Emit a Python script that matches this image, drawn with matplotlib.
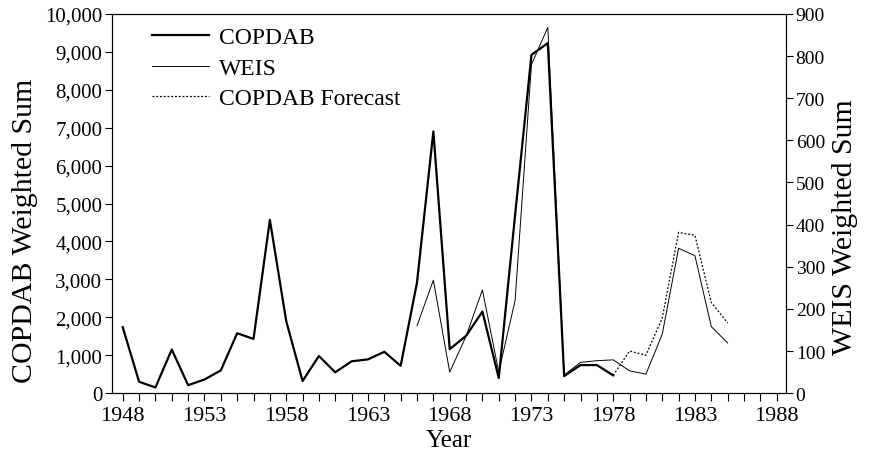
import numpy as np
import matplotlib
matplotlib.use("Agg")
import matplotlib.pyplot as plt
from matplotlib.ticker import FuncFormatter, MultipleLocator

plt.rcParams["font.family"] = ["Liberation Serif", "DejaVu Serif"]

# COPDAB weighted sum (left axis)
copdab_years = np.arange(1948, 1979)
copdab = [1740, 300, 150, 1150, 210, 360, 600, 1580, 1430, 4570, 1900,
          320, 980, 550, 840, 890, 1090, 720, 2920, 6900, 1160, 1510,
          2150, 400, 4700, 8920, 9230, 450, 740, 740, 470]

# WEIS weighted sum (right axis)
weis_years = np.arange(1966, 1986)
weis = [160, 268, 50, 135, 245, 50, 220, 780, 868, 43, 73, 77, 79,
        53, 45, 140, 344, 326, 158, 119]

# COPDAB forecast (left axis)
fc_years = np.arange(1978, 1986)
forecast = [470, 1110, 1000, 1980, 4240, 4160, 2390, 1850]

fig = plt.figure(figsize=(8.69, 4.52), dpi=100)
ax = fig.add_axes([0.129, 0.128, 0.7755, 0.839])
ax2 = ax.twinx()

lc, = ax.plot(copdab_years, copdab, color="black", lw=1.6, label="COPDAB")
lf, = ax.plot(fc_years, forecast, color="black", lw=0.9, ls=(0, (1.5, 1.5)),
              label="COPDAB Forecast")
lw_, = ax2.plot(weis_years, weis, color="black", lw=0.7, label="WEIS")

ax.set_xlim(1947.35, 1988.57)
ax.set_ylim(0, 10000)
ax2.set_ylim(0, 900)

ax.set_xticks(np.arange(1948, 1989, 5))
ax.xaxis.set_minor_locator(MultipleLocator(1))
ax.yaxis.set_major_locator(MultipleLocator(1000))
ax.yaxis.set_major_formatter(FuncFormatter(lambda v, p: f"{int(v):,}"))
ax2.yaxis.set_major_locator(MultipleLocator(100))

for a in (ax, ax2):
    a.tick_params(which="both", direction="out", length=5, width=0.8,
                  labelsize=14, pad=2)
ax.tick_params(axis="y", labelsize=15)
ax.tick_params(axis="x", which="both", length=6, labelsize=16, pad=3)

ax.set_xlabel("Year", fontsize=18, labelpad=3)
ax.set_ylabel("COPDAB Weighted Sum", fontsize=21.5)
ax2.set_ylabel("WEIS Weighted Sum", fontsize=21.5)
ax.yaxis.set_label_coords(-0.11, 0.43)
ax2.yaxis.set_label_coords(1.068, 0.44)

ax.legend(handles=[lc, lw_, lf], loc="upper left",
          bbox_to_anchor=(0.04, 1.0), frameon=False, fontsize=17,
          handlelength=2.4, handletextpad=0.45, labelspacing=0.38,
          borderaxespad=0.15)

fig.savefig("out.png", dpi=100)
